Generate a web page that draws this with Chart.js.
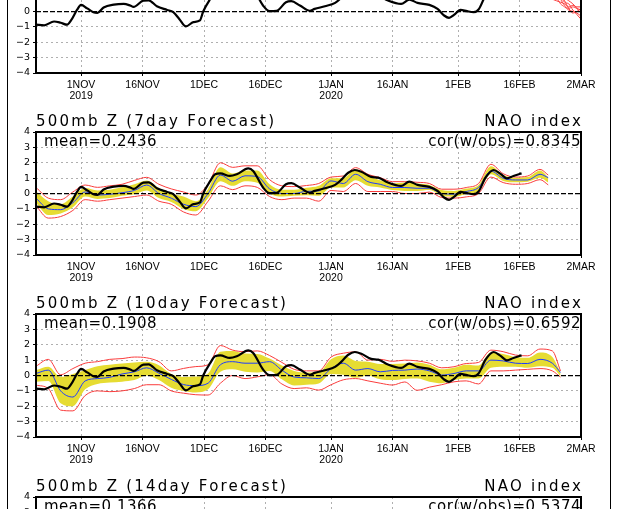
<!DOCTYPE html>
<html><head><meta charset="utf-8">
<script src="https://cdn.jsdelivr.net/npm/chart.js@4/dist/chart.umd.min.js"></script>
<style>
html,body{margin:0;padding:0;background:#fff;}
#wrap{position:relative;width:618px;height:509px;overflow:hidden;background:#fff;}
canvas.p{position:absolute;left:0;}
.t{position:absolute;font-family:"DejaVu Sans";font-size:15px;line-height:15px;white-space:nowrap;color:#000;}
.ttl{letter-spacing:2.2px;}
.sub{letter-spacing:0.5px;}
.frame{position:absolute;top:0;height:509px;width:1px;background:#000;}
</style></head><body>
<div id="wrap">
<div class="frame" style="left:7px"></div>
<div class="frame" style="left:610px"></div>
</div>
<script>
// ---- axis ticks ----
const tickDays = [11,26,41,56,72,87,103,118,133];
const tickLabels = [["1NOV","2019"],"16NOV","1DEC","16DEC",["1JAN","2020"],"16JAN","1FEB","16FEB","2MAR"];
const yTicks = [-4,-3,-2,-1,0,1,2,3,4];
const yTickLabels = ["\u22124","\u22123","\u22122","\u22121","0","1","2","3","4"];

// ---- observed NAO (days since 21 Oct 2019) ----
const obsDays = [0,2,4.4,6,7.6,8.5,10,11,12.5,14,15,16.5,19,21.4,23,23.8,26.2,27.5,29.5,32,33.5,35,36.6,38.4,40,40.8,42.5,43.7,45,47.3,49,51.8,53,55.4,57,58.7,61,62.3,64.4,66.8,68,70.5,73,74.6,76.2,77.8,79.4,81.8,83.5,85.9,89.1,91.1,93.1,96,98,99.6,100.8,102,103.6,105.2,106.8,108,109.7,111.7,113.3,114.9,116.5,118.5];
const obsVals = [-0.85,-0.9,-0.65,-0.73,-0.86,-0.6,0.1,0.43,0.2,-0.05,-0.09,0.26,0.45,0.5,0.39,0.3,0.71,0.73,0.34,0.1,-0.04,-0.5,-0.97,-0.69,-0.58,0.0,0.8,1.25,1.31,1.14,1.25,1.63,1.46,0.39,0.02,0.04,0.6,0.67,0.39,0.05,0.17,0.34,0.56,0.92,1.35,1.53,1.42,1.08,1.03,0.71,0.49,0.77,0.56,0.43,0.17,-0.26,-0.41,-0.22,0.11,0.02,-0.04,0.13,1.03,1.53,1.29,0.99,1.14,1.31];

// ---- 7 day forecast ----
const days7 = [0,3,6,9,12,15,18,21,24,27,30,33,36,39,42,45,48,51,54,57,60,63,66,69,72,75,78,81,84,87,90,93,96,99,102,105,108,111,114,117,120,123,125];
const redHi7 = [0.4,-0.3,-0.4,0.1,0.55,0.4,0.5,0.6,0.85,1.05,0.6,0.3,0.1,-0.1,0.6,2.0,1.7,1.8,1.8,0.9,0.5,0.45,0.52,0.65,1.07,1.14,1.68,1.25,1.03,0.77,0.77,0.73,0.65,0.28,0.28,0.39,0.65,1.9,1.29,1.07,1.14,1.57,1.2];
const yelHi7 = [0.15,-0.5,-0.7,-0.2,0.35,0.2,0.25,0.4,0.6,0.85,0.35,0.0,-0.2,-0.5,0.3,1.7,1.3,1.5,1.5,0.6,0.25,0.25,0.37,0.5,1.0,1.0,1.57,1.14,0.86,0.65,0.71,0.65,0.56,0.22,0.17,0.32,0.56,1.78,1.2,1.03,1.07,1.5,1.07];
const mean7 = [-0.3,-1.0,-1.05,-0.6,0.1,-0.1,-0.05,0.05,0.2,0.55,0.0,-0.3,-0.7,-0.85,0.0,1.2,0.8,1.15,1.1,0.3,0.0,0.0,0.14,0.17,0.82,0.65,1.25,0.77,0.6,0.39,0.39,0.34,0.34,0.0,-0.04,0.13,0.39,1.46,0.99,0.88,0.88,1.25,1.03];
const yelLo7 = [-0.6,-1.4,-1.3,-0.9,-0.2,-0.35,-0.3,-0.15,-0.05,0.2,-0.3,-0.55,-1.0,-1.15,-0.3,0.8,0.5,0.8,0.7,0.0,-0.2,-0.15,-0.12,-0.15,0.39,0.39,0.86,0.5,0.39,0.22,0.17,0.17,0.22,-0.15,-0.22,-0.04,0.17,1.25,0.82,0.73,0.77,1.03,0.71];
const redLo7 = [-0.8,-1.6,-1.5,-1.1,-0.4,-0.5,-0.4,-0.3,-0.2,-0.1,-0.5,-0.7,-1.2,-1.4,-0.5,0.5,0.25,0.5,0.4,-0.2,-0.4,-0.3,-0.3,-0.5,0.2,0.13,0.65,0.13,0.13,0.13,0.0,0.0,0.09,-0.26,-0.3,-0.22,0.0,1.07,0.71,0.6,0.65,0.9,0.56];

// ---- 10 day forecast ----
const days10 = [0,3,6,9,12,15,18,21,24,27,30,33,36,39,42,45,48,51,54,57,60,63,66,69,72,75,78,81,84,87,90,93,96,99,102,105,108,111,114,117,120,123,126,128];
const redHi10 = [0.6,1.05,0.05,0.45,0.8,0.9,1.05,1.1,1.2,1.15,0.9,0.3,0.46,0.58,0.7,1.95,1.65,1.55,1.6,1.3,0.85,0.4,0.3,0.3,1.2,1.45,1.54,1.0,1.05,0.92,1.0,0.95,0.8,0.5,0.57,0.78,0.85,1.65,1.55,1.33,1.28,1.72,1.6,0.3];
const yelHi10 = [0.35,0.57,-0.1,0.1,0.35,0.6,0.7,0.78,0.85,0.9,0.67,0.1,-0.09,-0.07,0.13,1.55,1.59,1.43,1.4,1.1,0.65,0.3,0.2,0.2,1.05,1.3,0.95,0.9,0.75,0.75,0.78,0.85,0.7,0.4,0.5,0.7,0.65,1.5,1.4,1.2,1.15,1.5,1.2,0.2];
const mean10 = [0.13,0.35,-1.0,-1.4,-0.35,-0.2,-0.12,0.1,0.24,0.5,0.15,-0.25,-0.59,-0.66,-0.5,0.7,0.9,0.8,0.8,0.9,0.35,-0.1,-0.15,-0.2,0.45,0.8,0.35,0.45,0.24,0.33,0.35,0.42,0.3,0.03,0.13,0.3,0.3,1.0,0.95,0.8,0.78,1.05,0.8,0.2];
const yelLo10 = [-0.4,-0.35,-1.8,-2.0,-0.9,-0.55,-0.45,-0.4,-0.3,0.0,-0.3,-0.8,-1.0,-1.1,-0.9,0.24,0.4,0.25,0.2,0.3,-0.25,-0.65,-0.6,-0.52,0.1,0.05,-0.15,0.0,-0.25,-0.3,-0.22,-0.2,-0.4,-0.5,-0.3,-0.2,-0.2,0.5,0.57,0.57,0.5,0.6,0.5,-0.05];
const redLo10 = [-0.63,-0.85,-2.25,-2.3,-1.3,-1.0,-1.05,-1.0,-0.85,-0.6,-0.6,-1.0,-1.15,-1.25,-1.27,-0.5,0.0,-0.2,-0.09,0.05,-0.55,-0.85,-0.8,-0.95,-0.6,-0.28,-0.2,-0.35,-0.5,-0.62,-0.42,-0.96,-0.76,-0.6,-0.41,-0.35,-0.55,0.3,0.3,0.35,0.4,0.45,0.3,-0.1];

// ---- top panel: member forecasts at the end ----
const topRedDays = [126,127,128,129,130,131,132,133];
const topRed1 = [1.3,0.9,0.5,0.3,0.1,0.0,-0.1,-0.3];
const topRed2 = [1.6,1.2,0.8,0.4,0.2,0.3,0.2,0.1];
const topRed3 = [2.0,1.4,1.0,0.6,0.5,0.1,-0.2,-0.5];
const topRed4 = [0.8,0.7,0.6,0.5,0.3,0.4,0.3,0.3];
const topRed5 = [1.8,1.5,1.1,0.7,0.2,-0.1,0.0,0.2];
const topRed6 = [2.2,1.8,1.3,0.9,0.7,0.5,0.2,-0.1];

// ---- panel texts ----
const panelTitles = ["500mb Z (1day Forecast)","500mb Z (7day Forecast)","500mb Z (10day Forecast)","500mb Z (14day Forecast)"];
const panelRight = ["NAO index","NAO index","NAO index","NAO index"];
const meanTexts = ["","mean=0.2436","mean=0.1908","mean=0.1366"];
const corTexts = ["","cor(w/obs)=0.8345","cor(w/obs)=0.6592","cor(w/obs)=0.5374"];

// ---- styling ----
const BLACK = "#000000", BLUE = "rgb(30,60,255)", RED = "rgb(250,60,60)", YEL = "rgb(230,220,50)", GRAY = "rgb(175,175,175)";
const plotTops = [-50, 132, 314, 497];
const PAD_TOP = 25, PLOT_H = 123, XAX_H = 40, YAX_W = 36, PAD_R = 37;

const pts = (d, v) => d.map((x, i) => ({x: x, y: v[i]}));
const line = (data, color, width, order, extra) => Object.assign({
  data: data, borderColor: color, borderWidth: width, pointRadius: 0, fill: false,
  cubicInterpolationMode: 'monotone', order: order
}, extra || {});

function forecastSets(days, rH, yH, m, yL, rL) {
  return [
    line(pts(obsDays, obsVals), BLACK, 2.2, 0),
    line(pts(days, m), BLUE, 1, 1),
    line(pts(days, rH), RED, 1, 2),
    line(pts(days, rL), RED, 1, 2),
    line(pts(days, yH), YEL, 0, 4, {fill: '+1', backgroundColor: YEL}),
    line(pts(days, yL), YEL, 0, 5)
  ];
}

const panelSets = [
  [line(pts(obsDays, obsVals), BLACK, 2.2, 0)].concat(
    [topRed1, topRed2, topRed3, topRed4, topRed5, topRed6].map(r => line(pts(topRedDays, r), RED, 1, 2))),
  forecastSets(days7, redHi7, yelHi7, mean7, yelLo7, redLo7),
  forecastSets(days10, redHi10, yelHi10, mean10, yelLo10, redLo10),
  [line(pts(obsDays, obsVals), BLACK, 2.2, 0)]
];

const framePlugin = {
  id: 'frame',
  afterDraw(chart) {
    const a = chart.chartArea, ctx = chart.ctx;
    ctx.save();
    ctx.setLineDash([]);
    ctx.lineWidth = 2;
    ctx.strokeStyle = '#000';
    ctx.strokeRect(a.left, a.top, a.right - a.left, a.bottom - a.top);
    ctx.restore();
  }
};

const wrap = document.getElementById('wrap');
function addText(txt, cls, style) {
  const d = document.createElement('div');
  d.className = 't ' + cls;
  d.textContent = txt;
  Object.assign(d.style, style);
  wrap.appendChild(d);
}

plotTops.forEach((top, i) => {
  const cv = document.createElement('canvas');
  cv.className = 'p';
  cv.width = 618; cv.height = PAD_TOP + PLOT_H + XAX_H;
  cv.style.top = (top - PAD_TOP) + 'px';
  wrap.appendChild(cv);

  new Chart(cv, {
    type: 'line',
    data: { datasets: panelSets[i] },
    options: {
      responsive: false, animation: false, devicePixelRatio: 1,
      layout: { padding: { top: PAD_TOP, right: PAD_R, left: 0, bottom: 0 } },
      plugins: { legend: { display: false }, tooltip: { enabled: false } },
      scales: {
        x: {
          type: 'linear', min: 0, max: 133,
          afterBuildTicks: s => { s.ticks = tickDays.map(v => ({ value: v })); },
          afterFit: s => { s.height = XAX_H; },
          ticks: {
            autoSkip: false, maxRotation: 0, minRotation: 0, padding: 4, color: '#000',
            font: { family: 'Liberation Sans', size: 10.5, lineHeight: 1.0 },
            callback: (v, idx) => tickLabels[tickDays.indexOf(v)]
          },
          grid: {
            color: c => (c.tick && c.tick.value === 133) ? 'rgba(0,0,0,0)' : GRAY,
            lineWidth: 1, drawTicks: true, tickLength: 3, tickColor: '#000', tickWidth: 1
          },
          border: { display: false, dash: [2, 3] }
        },
        y: {
          type: 'linear', min: -4, max: 4, position: 'left',
          afterBuildTicks: s => { s.ticks = yTicks.map(v => ({ value: v })); },
          afterFit: s => { s.width = YAX_W; },
          ticks: {
            padding: 3, color: '#000',
            font: { family: 'DejaVu Sans', size: 9.5 },
            callback: v => yTickLabels[yTicks.indexOf(v)]
          },
          grid: {
            color: c => (c.tick && (c.tick.value === 0 || Math.abs(c.tick.value) === 4)) ? 'rgba(0,0,0,0)' : GRAY,
            lineWidth: 1, drawTicks: true, tickLength: 3, tickColor: '#000', tickWidth: 1
          },
          border: { display: false, dash: [2, 3] }
        },
        yz: {
          type: 'linear', min: -4, max: 4, position: 'left',
          afterBuildTicks: s => { s.ticks = [{ value: yTicks[4] }]; },
          afterFit: s => { s.width = 0; },
          ticks: { display: false },
          grid: { z: 1, color: '#000', lineWidth: 1.2, drawTicks: false },
          border: { display: false, dash: [5, 2] }
        }
      }
    },
    plugins: [framePlugin]
  });

  addText(panelTitles[i], 'ttl', { left: '36px', top: (top - 18) + 'px' });
  addText(panelRight[i], 'ttl', { right: '35px', top: (top - 18) + 'px' });
  if (meanTexts[i]) addText(meanTexts[i], 'sub', { left: '44px', top: (top + 2) + 'px' });
  if (corTexts[i]) addText(corTexts[i], 'sub', { right: '37px', top: (top + 2) + 'px' });
});
</script>
</body></html>
